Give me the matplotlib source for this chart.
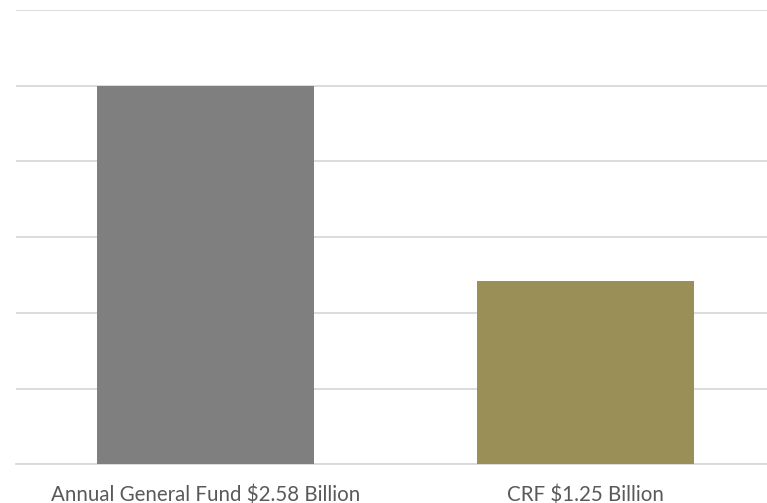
import numpy as np
import matplotlib.pyplot as plt

categories = ['Annual General Fund $2.58 Billion', 'CRF $1.25 Billion']
values = [2.58, 1.25]
colors = ['#7f7f7f', '#9a9057']

fig = plt.figure(figsize=(7.67, 5.03), dpi=100)
ax = fig.add_axes([15.5 / 767, 38.7 / 503, 760 / 767, 454.3 / 503])

x = np.arange(len(categories))
ax.bar(x, values, width=0.571, color=colors, zorder=3)

ymax = values[0] * 6 / 5
ax.set_ylim(0, ymax)
ax.set_xlim(-0.5, 1.5)
ax.set_yticks(np.linspace(0, ymax, 7))
ax.yaxis.grid(True, color='#d9d9d9', linewidth=1.3, zorder=0)
ax.tick_params(axis='y', left=False, labelleft=False)
ax.tick_params(axis='x', length=0, pad=15)
ax.set_xticks(x)
ax.set_xticklabels(categories, fontfamily='Lato', fontsize=14.8, color='#595959')
for s in ['top', 'right', 'left']:
    ax.spines[s].set_visible(False)
ax.spines['bottom'].set_color('#d9d9d9')
ax.spines['bottom'].set_linewidth(1.3)

fig.savefig('out.png', dpi=100)
